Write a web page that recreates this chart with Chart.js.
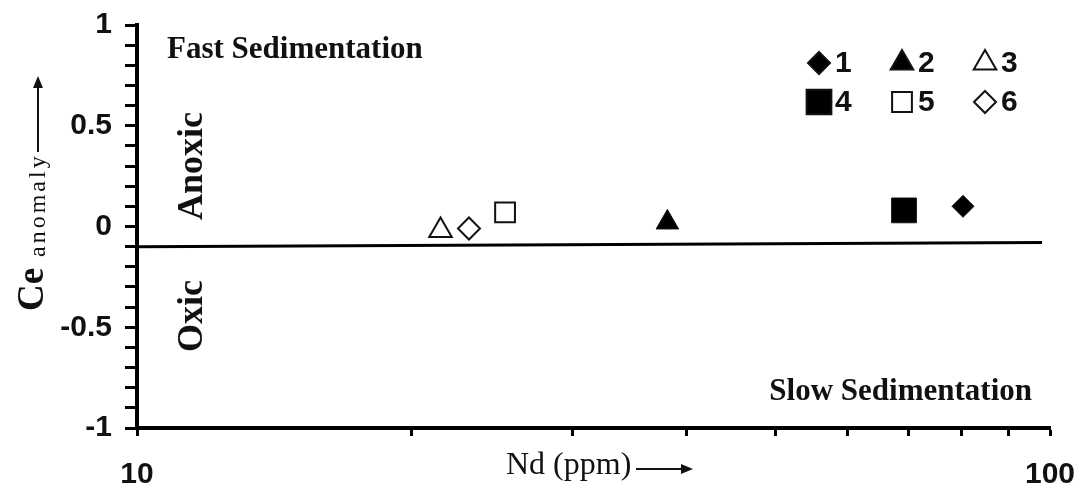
<!DOCTYPE html>
<html>
<head>
<meta charset="utf-8">
<script src="https://cdn.jsdelivr.net/npm/chart.js@4.4.1/dist/chart.umd.min.js"></script>
<style>
  body { margin: 0; background: #fff; }
  #wrap { width: 1085px; height: 493px; }
</style>
</head>
<body>
<div id="wrap"><canvas id="myChart"></canvas></div>
<script>
// sample groups and their values (Nd in ppm, Ce anomaly)
const seriesLabels = ['1', '2', '3', '4', '5', '6'];
const ndValues = [80.3, 38.1, 21.5, 69.2, 25.3, 23.1];
const ceValues = [0.10, 0.02, -0.02, 0.08, 0.07, -0.01];

// anoxic / oxic boundary
const boundaryNd = [10, 98];
const boundaryCe = [-0.1, -0.08];

// axis ticks
const xTickValues = [10, 20, 30, 40, 50, 60, 70, 80, 90, 100];
const xTickLabels = [10, 100];
const yMin = -1;
const yMax = 1;

const markerStyles = [
    { pointStyle: 'rectRot', radius: 11, fill: '#000' },
    { pointStyle: 'triangle', radius: 13, fill: '#000' },
    { pointStyle: 'triangle', radius: 13, fill: '#fff' },
    { pointStyle: 'rect', radius: 17.5, fill: '#000' },
    { pointStyle: 'rect', radius: 14, fill: '#fff' },
    { pointStyle: 'rectRot', radius: 11, fill: '#fff' }
];

const pointSets = seriesLabels.map((label, i) => ({
    label: label,
    data: [{ x: ndValues[i], y: ceValues[i] }],
    pointStyle: markerStyles[i].pointStyle,
    pointRadius: markerStyles[i].radius,
    pointHoverRadius: markerStyles[i].radius,
    backgroundColor: markerStyles[i].fill,
    borderColor: '#111',
    borderWidth: markerStyles[i].fill === '#fff' ? 2 : 1,
    order: 1
}));

const boundarySet = {
    label: 'boundary',
    type: 'line',
    data: boundaryNd.map((x, i) => ({ x: x, y: boundaryCe[i] })),
    borderColor: '#000',
    borderWidth: 3,
    pointRadius: 0,
    showLine: true,
    order: 2
};

const SERIF = '"Liberation Serif", "Times New Roman", serif';
const SANS = '"Liberation Sans", Arial, sans-serif';

function arrow(ctx, x1, y1, x2, y2) {
    const a = Math.atan2(y2 - y1, x2 - x1);
    ctx.beginPath();
    ctx.moveTo(x1, y1);
    ctx.lineTo(x2 - 8 * Math.cos(a), y2 - 8 * Math.sin(a));
    ctx.lineWidth = 2;
    ctx.stroke();
    ctx.beginPath();
    ctx.moveTo(x2, y2);
    ctx.lineTo(x2 - 12 * Math.cos(a) + 5 * Math.sin(a), y2 - 12 * Math.sin(a) - 5 * Math.cos(a));
    ctx.lineTo(x2 - 12 * Math.cos(a) - 5 * Math.sin(a), y2 - 12 * Math.sin(a) + 5 * Math.cos(a));
    ctx.closePath();
    ctx.fill();
}

function rotatedText(ctx, text, x, y, font, spacing) {
    ctx.save();
    ctx.translate(x, y);
    ctx.rotate(-Math.PI / 2);
    ctx.font = font;
    ctx.letterSpacing = spacing || '0px';
    ctx.textAlign = 'left';
    ctx.textBaseline = 'alphabetic';
    ctx.fillText(text, 0, 0);
    ctx.restore();
}

const annotations = {
    id: 'annotations',
    afterDraw(chart) {
        const ctx = chart.ctx;
        ctx.save();
        ctx.fillStyle = '#111';
        ctx.strokeStyle = '#111';

        // region labels
        ctx.font = 'bold 31px ' + SERIF;
        ctx.textBaseline = 'alphabetic';
        ctx.textAlign = 'left';
        ctx.fillText('Fast Sedimentation', 167, 58);
        ctx.textAlign = 'right';
        ctx.fillText('Slow Sedimentation', 1032, 400);

        rotatedText(ctx, 'Anoxic', 202, 220, 'bold 36px ' + SERIF);
        rotatedText(ctx, 'Oxic', 202, 352, 'bold 36px ' + SERIF);

        // y axis title
        rotatedText(ctx, 'Ce', 43, 311, 'bold 37px ' + SERIF);
        rotatedText(ctx, 'anomaly', 45, 257, '24px ' + SERIF, '3px');
        arrow(ctx, 38, 152, 38, 76);

        // x axis title
        ctx.font = '32px ' + SERIF;
        ctx.textAlign = 'left';
        ctx.letterSpacing = '0px';
        ctx.fillText('Nd (ppm)', 506, 474);
        arrow(ctx, 636, 469, 693, 469);

        // legend, 3 columns x 2 rows
        const colX = [819, 902, 985];
        const rowY = [63, 102];
        ctx.font = 'bold 30px ' + SANS;
        ctx.textBaseline = 'middle';
        pointSets.forEach((ds, i) => {
            const x = colX[i % 3];
            const y = rowY[Math.floor(i / 3)];
            ctx.fillStyle = ds.backgroundColor;
            ctx.strokeStyle = ds.borderColor;
            Chart.helpers.drawPoint(ctx, {
                pointStyle: ds.pointStyle,
                radius: ds.pointRadius,
                rotation: 0,
                borderWidth: ds.borderWidth
            }, x, y);
            ctx.fillStyle = '#111';
            ctx.textAlign = 'left';
            ctx.fillText(ds.label, x + 16, y + 1);
        });
        ctx.restore();
    }
};

const config = {
    type: 'scatter',
    data: { datasets: [boundarySet].concat(pointSets) },
    options: {
        responsive: true,
        maintainAspectRatio: false,
        animation: false,
        layout: { padding: { top: 25, right: 35, left: 0, bottom: 0 } },
        plugins: {
            legend: { display: false },
            tooltip: { enabled: false }
        },
        scales: {
            x: {
                type: 'logarithmic',
                min: 10,
                max: 100,
                afterBuildTicks(scale) {
                    scale.ticks = xTickValues.map(v => ({ value: v }));
                },
                afterFit(scale) {
                    scale.height = 65;
                    scale.paddingLeft = 0;
                    scale.paddingRight = 0;
                },
                border: { display: true, color: '#000', width: 4 },
                grid: {
                    drawOnChartArea: false,
                    drawTicks: true,
                    tickLength: 8,
                    tickWidth: 3,
                    tickColor: '#000'
                },
                ticks: {
                    autoSkip: false,
                    maxRotation: 0,
                    padding: 21,
                    color: '#111',
                    font: { family: SANS, size: 30, weight: 'bold' },
                    callback: v => xTickLabels.includes(v) ? String(v) : ''
                }
            },
            y: {
                min: yMin,
                max: yMax,
                afterFit(scale) {
                    scale.width = 137;
                    scale.paddingTop = 0;
                    scale.paddingBottom = 0;
                },
                border: { display: true, color: '#000', width: 4 },
                grid: {
                    drawOnChartArea: false,
                    drawTicks: true,
                    tickLength: 12,
                    tickWidth: 3,
                    tickColor: '#000'
                },
                ticks: {
                    stepSize: 0.1,
                    autoSkip: false,
                    padding: 13,
                    color: '#111',
                    font: { family: SANS, size: 30, weight: 'bold' },
                    callback: v => Math.abs(v * 2 - Math.round(v * 2)) < 1e-6 ? String(Math.round(v * 10) / 10) : ''
                }
            }
        }
    },
    plugins: [annotations]
};

const myChart = new Chart(document.getElementById('myChart'), config);
</script>
</body>
</html>
